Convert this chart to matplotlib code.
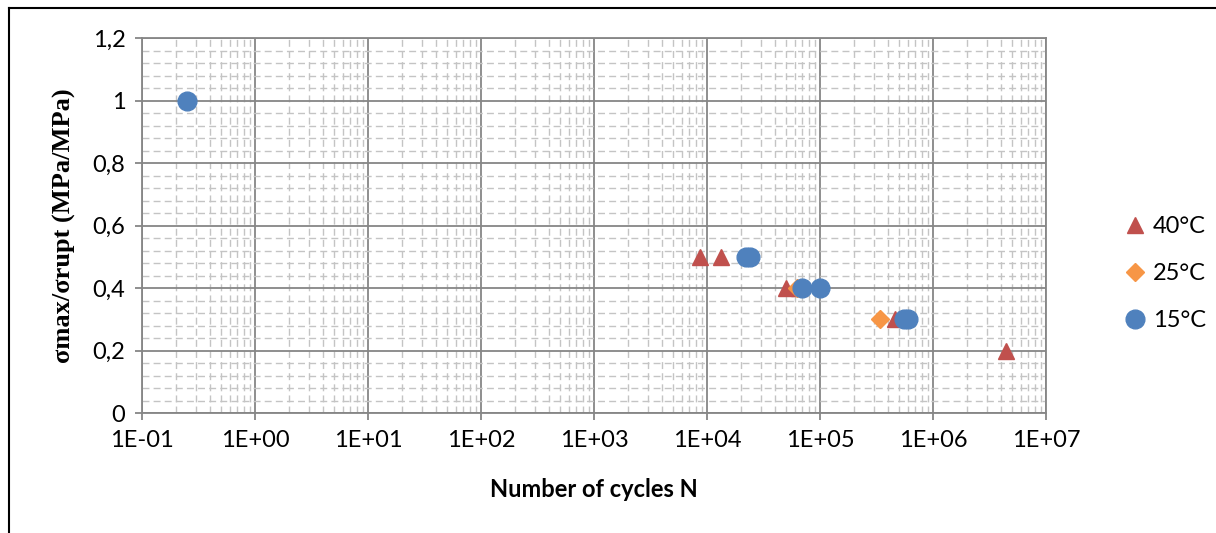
import matplotlib.pyplot as plt
import numpy as np
from matplotlib.ticker import LogLocator, MultipleLocator, FixedLocator, NullFormatter
from matplotlib.lines import Line2D

plt.rcParams['font.family'] = ['Lato', 'DejaVu Sans']

# data
labels = ['40°C', '25°C', '15°C']
n_40 = [8.7e3, 1.33e4, 5.0e4, 6.5e4, 4.6e5, 4.4e6]
s_40 = [0.5, 0.5, 0.4, 0.4, 0.3, 0.2]
n_25 = [6.2e4, 3.4e5]
s_25 = [0.4, 0.3]
n_15 = [0.25, 2.2e4, 2.4e4, 6.9e4, 1.0e5, 5.5e5, 6.0e5]
s_15 = [1.0, 0.5, 0.5, 0.4, 0.4, 0.3, 0.3]

c_red, c_orange, c_blue = '#C0504D', '#F79646', '#4F81BD'
grid_c = '#868686'
minor_c = '#C4C4C4'

fig = plt.figure(figsize=(12.16, 5.33), dpi=100)
ax = fig.add_axes([142 / 1216, 1 - 413 / 533, (1046 - 142) / 1216, (413 - 38) / 533])

ax.plot(n_40, s_40, linestyle='none', marker='^', markersize=12, color=c_red, label=labels[0], zorder=3)
ax.plot(n_25, s_25, linestyle='none', marker='D', markersize=9, color=c_orange, label=labels[1], zorder=4)
ax.plot(n_15, s_15, linestyle='none', marker='o', markersize=13.5, color=c_blue, label=labels[2], zorder=5)

ax.set_xscale('log')
ax.set_xlim(1e-1, 1e7)
ax.set_ylim(0, 1.2)

ax.xaxis.set_minor_locator(LogLocator(base=10, subs=np.arange(2, 10), numticks=100))
ax.xaxis.set_minor_formatter(NullFormatter())
xt = [10.0 ** k for k in range(-1, 8)]
ax.set_xticks(xt)
ax.set_xticklabels(['1E%+03d' % k for k in range(-1, 8)])

yt = [0, 0.2, 0.4, 0.6, 0.8, 1.0, 1.2]
ax.yaxis.set_major_locator(FixedLocator(yt))
ax.set_yticklabels(['0', '0,2', '0,4', '0,6', '0,8', '1', '1,2'])
ax.yaxis.set_minor_locator(MultipleLocator(0.04))

ax.grid(which='major', color=grid_c, linewidth=1.3, zorder=1)
ax.grid(which='minor', color=minor_c, linewidth=1.0, linestyle=(0, (5, 3)), zorder=0)
ax.set_axisbelow(True)

for sp in ax.spines.values():
    sp.set_color(grid_c)
    sp.set_linewidth(1.3)

ax.tick_params(which='major', direction='out', length=5, width=1.3, color=grid_c,
               labelsize=17, labelcolor='black', pad=7)
ax.tick_params(which='minor', length=0)

ax.set_xlabel('Number of cycles N', fontsize=17, fontweight='bold', labelpad=20)
ax.set_ylabel('σmax/σrupt (MPa/MPa)', fontsize=19, fontweight='bold',
              family=['Liberation Serif', 'DejaVu Serif'], labelpad=12)

leg = ax.legend(loc='center left', bbox_to_anchor=(1.065, 0.371), frameon=False,
                fontsize=17, handlelength=0.8, handletextpad=0.35, labelspacing=1.1)

# outer chart frame (left and top edges visible)
fig.add_artist(Line2D([9 / 1216, 9 / 1216], [0, 1 - 8 / 533], color='black', linewidth=1.5))
fig.add_artist(Line2D([9 / 1216, 1], [1 - 8 / 533, 1 - 8 / 533], color='black', linewidth=1.5))

fig.savefig('out.png', dpi=100)
